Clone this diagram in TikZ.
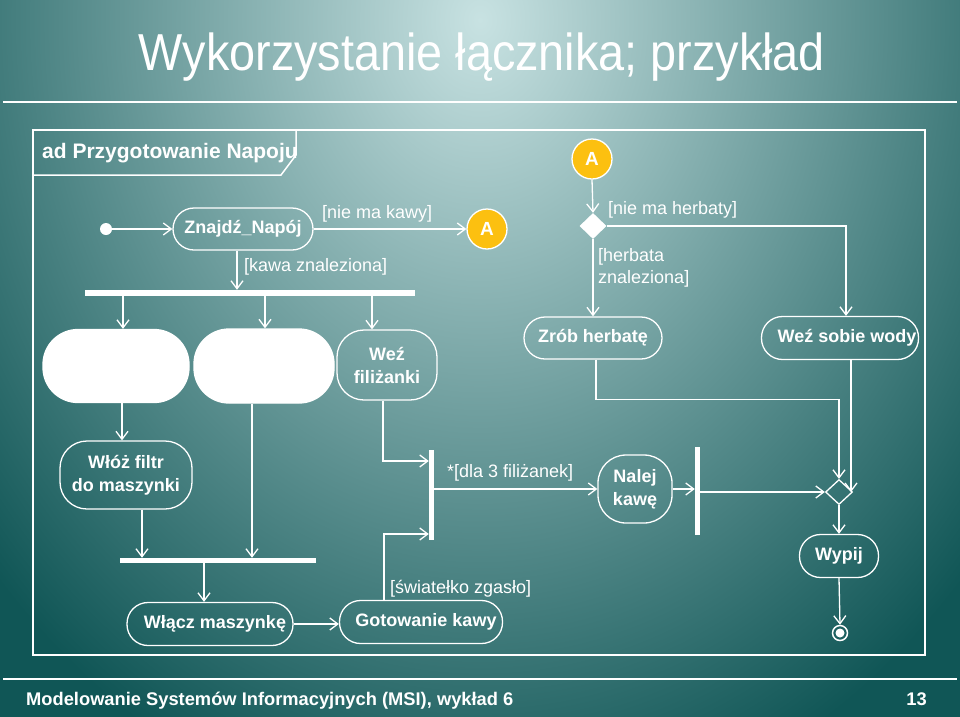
\documentclass[tikz,border=0pt]{standalone}
\usepackage{fontspec}
\setmainfont{Liberation Sans}
\usetikzlibrary{arrows.meta,shapes.geometric}
\definecolor{bginner}{RGB}{200,226,226}
\definecolor{bgouter}{RGB}{16,86,86}
\definecolor{ayellow}{RGB}{252,192,16}
\begin{document}
\begin{tikzpicture}[x=1pt,y=-1pt,
  lbl/.style={text=white, font=\fontsize{18}{22}\selectfont, inner sep=0pt},
  act/.style={draw=white, line width=1.3pt, rounded corners=#1, text=white, font=\bfseries\fontsize{18}{23}\selectfont, align=center, inner sep=0pt},
  act/.default=21pt,
  arr/.style={draw=white, line width=1.3pt, -{Straight Barb[length=8pt,width=12pt]}},
  barnode/.style={fill=white, inner sep=0pt, draw=none},
  connector/.style={circle, fill=ayellow, draw=white, line width=1.3pt, minimum size=40pt, inner sep=0pt, text=white, font=\bfseries\fontsize{19}{21}\selectfont},
]
\useasboundingbox (0,0) rectangle (960,716);
\fill[bgouter] (-10,-10) rectangle (970,726);
\shade[inner color=bginner, outer color=bgouter] (480,20) ellipse [x radius=660pt, y radius=820pt];
\draw[white, line width=2.5pt] (3,102) -- (957,102);
\draw[white, line width=2.5pt] (3,679) -- (957,679);

\node[text=white, font=\fontsize{52}{60}\selectfont, anchor=base, xscale=0.9, inner sep=0pt] (title) at (482,70) {Wykorzystanie łącznika; przykład};

\draw[white, line width=1.5pt] (33,130) rectangle (925,655);
\draw[white, line width=1.5pt] (33,175) -- (281,175) -- (296,155) -- (296,130);
\node[text=white, font=\bfseries\fontsize{21}{24}\selectfont, anchor=base west, inner sep=0pt] (hdr) at (42,158) {ad Przygotowanie Napoju};

% nodes
\node[circle, fill=white, minimum size=12pt, inner sep=0pt] (init) at (106,229) {};
\node[act, minimum width=140pt, minimum height=42pt] (znajdz) at (243,229) {Znajdź\_Napój};
\node[connector] (A1) at (487,229) {A};
\node[connector] (A2) at (592,159) {A};
\node[diamond, fill=white, minimum width=27pt, minimum height=26pt, inner sep=0pt] (dm1) at (593,226) {};
\node[barnode, minimum width=330pt, minimum height=6pt] (fork1) at (250,293) {};
\node[act=35pt, fill=white, minimum width=146pt, minimum height=73pt] (w1) at (116,366) {};
\node[act=35pt, fill=white, minimum width=140pt, minimum height=74pt] (w2) at (264,366) {};
\node[act=27pt, minimum width=100pt, minimum height=70pt] (wf) at (387,365) {Weź\\filiżanki};
\node[act, minimum width=138pt, minimum height=42pt] (zh) at (593,338) {Zrób herbatę};
\node[act, minimum width=157pt, minimum height=43pt] (w5) at (840,338) {\hspace*{14pt}Weź sobie wody};
\node[act=27pt, minimum width=132pt, minimum height=68pt] (wz) at (126,475) {Włóż filtr\\do maszynki};
\node[barnode, minimum width=5pt, minimum height=90pt] (jb1) at (431.5,495) {};
\node[act=28pt, minimum width=74pt, minimum height=68pt] (nk) at (635,489) {Nalej\\kawę};
\node[barnode, minimum width=5pt, minimum height=88pt] (jb2) at (697.5,491) {};
\node[diamond, draw=white, line width=1.3pt, minimum width=27pt, minimum height=25pt, inner sep=0pt] (dm2) at (839,492) {};
\node[act, minimum width=79pt, minimum height=43pt] (wp) at (839,556) {Wypij};
\node[circle, draw=white, line width=1.5pt, minimum size=15pt, inner sep=0pt] (fin) at (840,633) {};
\node[circle, fill=white, minimum size=9pt, inner sep=0pt] (findot) at (fin) {};
\node[barnode, minimum width=196pt, minimum height=5pt] (fork2) at (218,560.5) {};
\node[act, minimum width=166pt, minimum height=43pt] (wm) at (210,624) {\hspace*{10pt}Włącz maszynkę};
\node[act, minimum width=163pt, minimum height=43pt] (gk) at (421,622) {\hspace*{10pt}Gotowanie kawy};

% labels
\node[lbl, anchor=base west] (l1) at (322,218) {[nie ma kawy]};
\node[lbl, anchor=base west] (l2) at (244,271) {[kawa znaleziona]};
\node[lbl, anchor=base west] (l3) at (608,214) {[nie ma herbaty]};
\node[lbl, anchor=north west, align=left] (l4) at (598,248) {[herbata\\znaleziona]};
\node[lbl, anchor=base west] (l5) at (447,477) {*[dla 3 filiżanek]};
\node[lbl, anchor=base west] (l6) at (390,593) {[światełko zgasło]};

% connectors
\draw[arr] (init) -- (znajdz.west);
\draw[arr] (znajdz.east) -- (A1.west);
\draw[arr] ([xshift=-6pt]znajdz.south) -- ([xshift=-6pt]znajdz.south |- fork1.north);
\draw[arr] ([xshift=7pt]w1.north |- fork1.south) -- ([xshift=7pt]w1.north);
\draw[arr] ([xshift=1pt]w2.north |- fork1.south) -- ([xshift=1pt]w2.north);
\draw[arr] ([xshift=-15pt]wf.north |- fork1.south) -- ([xshift=-15pt]wf.north);
\draw[arr] (A2.south) -- (dm1.north);
\draw[arr] (dm1.east) -| ([xshift=6pt]w5.north);
\draw[arr] (dm1.south) -- (zh.north);
\draw[arr] ([xshift=3pt]zh.south) |- ([yshift=79.5pt]dm2.north) -- (dm2.north);
\draw[arr] ([xshift=11pt]w5.south) -- ([xshift=11pt]w5.south |- dm2.east);
\draw[arr] ([xshift=-4pt]wf.south) |- ([yshift=34pt]jb1.west);
\draw[arr] ([xshift=-37pt]gk.north) |- ([yshift=-39pt]jb1.west);
\draw[arr] (jb1.east |- nk.west) -- (nk.west);
\draw[arr] (nk.east) -- (nk.east -| jb2.west);
\draw[arr] (jb2.east |- dm2.west) -- (dm2.west);
\draw[arr] (dm2.south) -- (wp.north);
\draw[arr] (wp.south) -- (fin.north);
\draw[arr] ([xshift=6pt]w1.south) -- ([xshift=6pt]w1.south |- wz.north);
\draw[arr] ([xshift=16pt]wz.south) -- ([xshift=16pt]wz.south |- fork2.north);
\draw[arr] ([xshift=-12pt]w2.south) -- ([xshift=-12pt]w2.south |- fork2.north);
\draw[arr] ([xshift=-6pt]wm.north |- fork2.south) -- ([xshift=-6pt]wm.north);
\draw[arr] (wm.east) -- (wm.east -| gk.west);

% footer
\node[text=white, font=\bfseries\fontsize{18.3}{22}\selectfont, anchor=base west, inner sep=0pt] (foot) at (26,705) {Modelowanie Systemów Informacyjnych (MSI), wykład 6};
\node[text=white, font=\bfseries\fontsize{18.3}{22}\selectfont, anchor=base east, inner sep=0pt] (pg) at (927,705) {13};
\end{tikzpicture}
\end{document}
